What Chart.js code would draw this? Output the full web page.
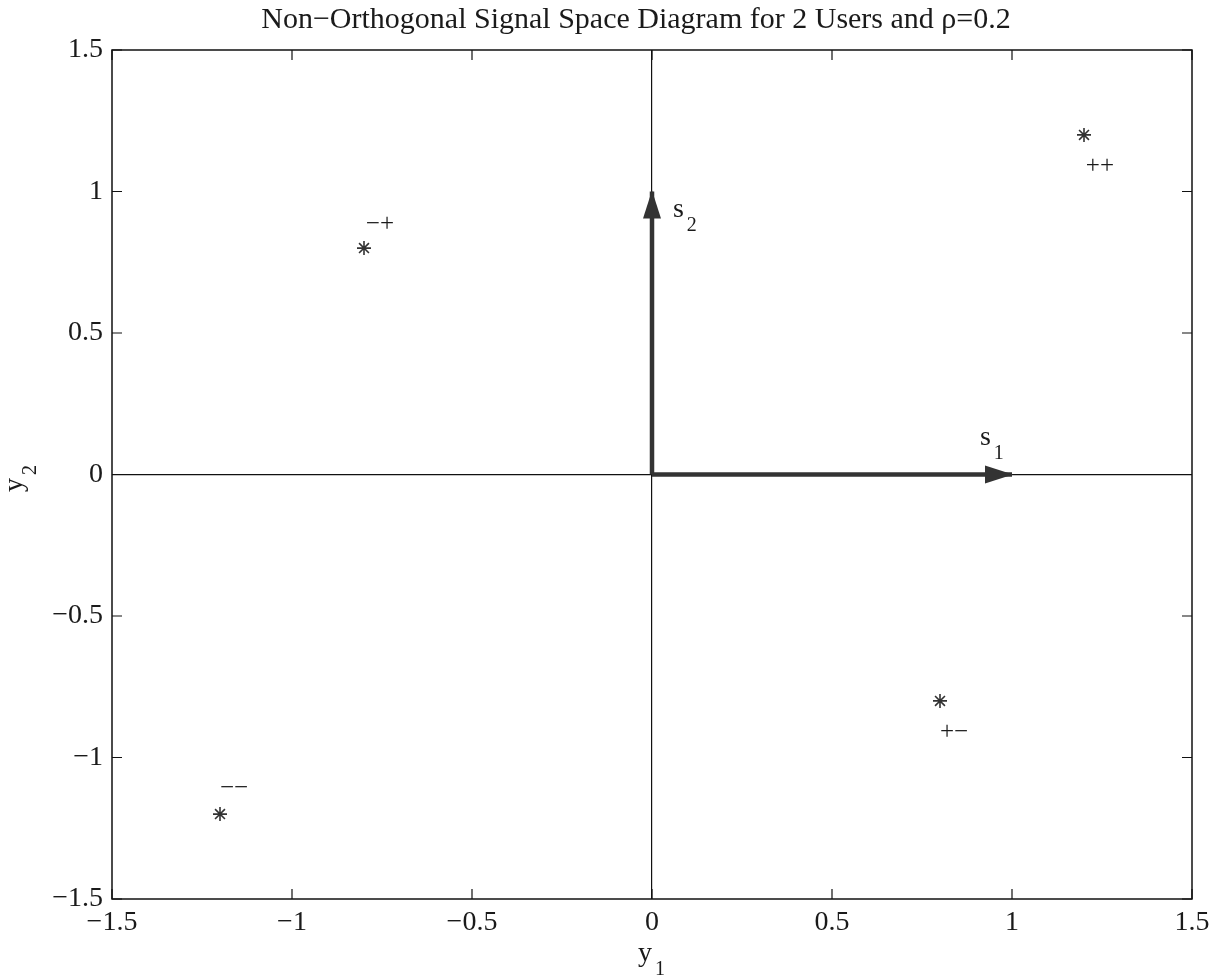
<!DOCTYPE html>
<html>
<head>
<meta charset="utf-8">
<script src="https://cdn.jsdelivr.net/npm/chart.js@4/dist/chart.umd.min.js"></script>
<style>
  html, body { margin: 0; padding: 0; background: #fff; }
</style>
</head>
<body>
<canvas id="Chart" width="1226" height="980"></canvas>
<script>
// signal points (y1, y2) for the four bit pairs
const starX = [1.2, -0.8, 0.8, -1.2];
const starY = [1.2, 0.8, -0.8, -1.2];
const signLabels = ['++', '\u2212+', '+\u2212', '\u2212\u2212'];
const labelX = [1.205, -0.795, 0.8, -1.2];
const labelY = [1.087, 0.885, -0.91, -1.108];

// basis vectors s1, s2
const vectorX = [1, 0];
const vectorY = [0, 1];
const vectorName = ['s', 's'];
const vectorSub = ['1', '2'];
const vectorLabelX = [0.911, 0.058];
const vectorLabelY = [0.105, 0.91];

const xTicks = [-1.5, -1, -0.5, 0, 0.5, 1, 1.5];
const yTicks = [-1.5, -1, -0.5, 0, 0.5, 1, 1.5];

const titleText = 'Non\u2212Orthogonal Signal Space Diagram for 2 Users and \u03c1=0.2';

const serif = "'Liberation Serif', 'Times New Roman', serif";
const ink = '#1a1a1a';
const markInk = '#333';

function fmt(v) {
    return String(v).replace('-', '\u2212');
}

function drawSub(ctx, base, sub, x, y) {
    ctx.font = '28px ' + serif;
    ctx.textAlign = 'left';
    ctx.textBaseline = 'alphabetic';
    ctx.fillText(base, x, y);
    const w = ctx.measureText(base).width;
    ctx.font = '20px ' + serif;
    ctx.fillText(sub, x + w + 3, y + 14);
}

const decorations = {
    id: 'decorations',
    afterDatasetsDraw(chart) {
        const { ctx, scales: { x, y } } = chart;
        ctx.save();
        ctx.fillStyle = markInk;
        const x0 = x.getPixelForValue(0), y0 = y.getPixelForValue(0);
        for (let i = 0; i < vectorX.length; i++) {
            const x1 = x.getPixelForValue(vectorX[i]);
            const y1 = y.getPixelForValue(vectorY[i]);
            const ang = Math.atan2(y1 - y0, x1 - x0);
            const c = Math.cos(ang), s = Math.sin(ang);
            const len = 27, half = 9;
            ctx.beginPath();
            ctx.moveTo(x1 + c * 1, y1 + s * 1);
            ctx.lineTo(x1 - len * c + half * s, y1 - len * s - half * c);
            ctx.lineTo(x1 - len * c - half * s, y1 - len * s + half * c);
            ctx.closePath();
            ctx.fill();
        }
        ctx.restore();
    },
    afterDraw(chart) {
        const { ctx, chartArea: a, scales: { x, y } } = chart;
        ctx.save();
        // box and inward ticks
        ctx.strokeStyle = '#111';
        ctx.lineWidth = 1.5;
        ctx.strokeRect(a.left, a.top, a.right - a.left, a.bottom - a.top);
        ctx.lineWidth = 1.2;
        ctx.beginPath();
        xTicks.forEach(v => {
            const px = x.getPixelForValue(v);
            ctx.moveTo(px, a.bottom); ctx.lineTo(px, a.bottom - 10);
            ctx.moveTo(px, a.top); ctx.lineTo(px, a.top + 10);
        });
        yTicks.forEach(v => {
            const py = y.getPixelForValue(v);
            ctx.moveTo(a.left, py); ctx.lineTo(a.left + 10, py);
            ctx.moveTo(a.right, py); ctx.lineTo(a.right - 10, py);
        });
        ctx.stroke();

        ctx.fillStyle = ink;
        // title
        ctx.font = '30px ' + serif;
        ctx.textAlign = 'center';
        ctx.textBaseline = 'alphabetic';
        ctx.fillText(titleText, 636, 28);
        // sign labels next to the points
        ctx.font = '25px ' + serif;
        ctx.textAlign = 'left';
        ctx.textBaseline = 'middle';
        signLabels.forEach((t, i) => {
            ctx.fillText(t, x.getPixelForValue(labelX[i]), y.getPixelForValue(labelY[i]));
        });
        // vector names
        vectorName.forEach((t, i) => {
            drawSub(ctx, t, vectorSub[i], x.getPixelForValue(vectorLabelX[i]), y.getPixelForValue(vectorLabelY[i]));
        });
        // axis titles
        drawSub(ctx, 'y', '1', 638, 961);
        ctx.translate(22, 492);
        ctx.rotate(-Math.PI / 2);
        drawSub(ctx, 'y', '2', 0, 0);
        ctx.restore();
    }
};

const ctx = document.getElementById('Chart').getContext('2d');
const chart = new Chart(ctx, {
    type: 'scatter',
    data: {
        datasets: [
            {
                label: 'vectors s1',
                data: [{ x: 0, y: 0 }, { x: vectorX[0], y: vectorY[0] }],
                showLine: true,
                borderColor: markInk,
                borderWidth: 4.5,
                pointRadius: 0
            },
            {
                label: 'vectors s2',
                data: [{ x: 0, y: 0 }, { x: vectorX[1], y: vectorY[1] }],
                showLine: true,
                borderColor: markInk,
                borderWidth: 4.5,
                pointRadius: 0
            },
            {
                label: 'points',
                data: starX.map((v, i) => ({ x: v, y: starY[i] })),
                pointStyle: 'star',
                pointRadius: 7,
                borderColor: markInk,
                borderWidth: 1.6,
                showLine: false
            }
        ]
    },
    options: {
        responsive: false,
        animation: false,
        layout: { padding: { left: 0, right: 34, top: 50, bottom: 0 } },
        plugins: {
            legend: { display: false },
            tooltip: { enabled: false },
            title: { display: false }
        },
        scales: {
            x: {
                type: 'linear',
                min: -1.5,
                max: 1.5,
                afterBuildTicks: s => { s.ticks = xTicks.map(v => ({ value: v })); },
                afterFit: s => { s.height = 81; },
                grid: {
                    drawTicks: false,
                    color: c => (c.tick && c.tick.value === 0 ? '#111' : 'rgba(0,0,0,0)'),
                    lineWidth: 1.2
                },
                border: { display: false },
                ticks: {
                    padding: 7,
                    color: ink,
                    font: { family: serif, size: 28, lineHeight: 1.2 },
                    maxRotation: 0,
                    autoSkip: false,
                    callback: v => fmt(v)
                }
            },
            y: {
                type: 'linear',
                min: -1.5,
                max: 1.5,
                afterBuildTicks: s => { s.ticks = yTicks.map(v => ({ value: v })); },
                afterFit: s => { s.width = 112; },
                grid: {
                    drawTicks: false,
                    color: c => (c.tick && c.tick.value === 0 ? '#111' : 'rgba(0,0,0,0)'),
                    lineWidth: 1.2
                },
                border: { display: false },
                ticks: {
                    padding: 9,
                    color: ink,
                    font: { family: serif, size: 28, lineHeight: 1.2 },
                    autoSkip: false,
                    callback: v => fmt(v)
                }
            }
        }
    },
    plugins: [decorations]
});
</script>
</body>
</html>
